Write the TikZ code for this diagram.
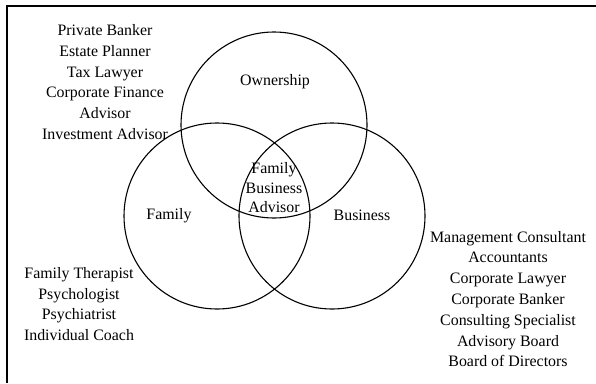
\documentclass[tikz,border=0pt]{standalone}
\usepackage{fontspec}
\setmainfont{Liberation Serif}
\begin{document}
\begin{tikzpicture}[x=1pt,y=-1pt,
  ring/.style={circle, draw, line width=1.1pt, minimum size=186pt, inner sep=0pt},
  lbl/.style={align=center, inner sep=0pt, font=\fontsize{15.9pt}{20.8pt}\selectfont},
  inlbl/.style={align=center, inner sep=0pt, font=\fontsize{15.9pt}{19.5pt}\selectfont}]
  \useasboundingbox (0,0) rectangle (596,383);
  % frame edges
  \coordinate (fb) at (7,383);
  \coordinate (fc) at (7,6);
  \coordinate (fr) at (596,6);
  \draw[line width=1.4pt] (fb) -- (fc) -- (fr);
  % the three overlapping circles
  \node[ring] (own) at (274,125) {};
  \node[ring] (fam) at (217,216) {};
  \node[ring] (bus) at (332,216) {};
  % circle labels
  \node[lbl] (ownl) at (275,82) {Ownership};
  \node[lbl] (faml) at (169,216) {Family};
  \node[lbl] (busl) at (362,215) {Business};
  \node[inlbl] (fba) at (274,188) {Family\\Business\\Advisor};
  % advisor lists
  \node[lbl] (ownlist) at (105,82) {Private Banker\\Estate Planner\\Tax Lawyer\\Corporate Finance\\Advisor\\Investment Advisor};
  \node[lbl] (famlist) at (79,304) {Family Therapist\\Psychologist\\Psychiatrist\\Individual Coach};
  \node[lbl] (buslist) at (508,299) {Management Consultant\\Accountants\\Corporate Lawyer\\Corporate Banker\\Consulting Specialist\\Advisory Board\\Board of Directors};
\end{tikzpicture}
\end{document}
